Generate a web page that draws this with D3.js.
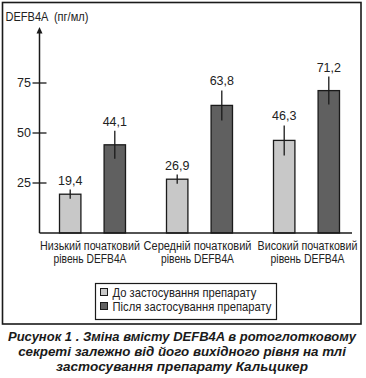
<!DOCTYPE html>
<html>
<head>
<meta charset="utf-8">
<script src="https://cdn.jsdelivr.net/npm/d3@7"></script>
<style>
  html, body { margin: 0; padding: 0; background: #fff; }
  svg { display: block; }
</style>
</head>
<body>
<svg id="chart" width="366" height="378"></svg>
<script>
// ---- data ----
const categories = ["Низький початковий|рівень DEFB4A", "Середній початковий|рівень DEFB4A", "Високий початковий|рівень DEFB4A"];
const series = ["До застосування препарату", "Після застосування препарату"];
const beforeValues = [19.4, 26.9, 46.3];
const afterValues = [44.1, 63.8, 71.2];
const beforeErrors = [2.3, 2.3, 7.5];
const afterErrors = [7.0, 7.5, 7.0];
const valueLabels = [["19,4", "44,1"], ["26,9", "63,8"], ["46,3", "71,2"]];
const yTicks = [25, 50, 75];
const yAxisTitle = "DEFB4A  (пг/мл)";
const captionLines = [
  "Рисунок 1 . Зміна вмісту DEFB4A в ротоглотковому",
  "секреті залежно від його вихідного рівня на тлі",
  "застосування препарату Кальцикер"
];
const seriesColors = ["#c8c8c8", "#606060"];

// ---- helpers ----
const FONT = "Liberation Sans, Arial, sans-serif";
// place a text at (x, y) and squeeze it horizontally to width w (narrow-face look)
function squeezed(parent, str, x, y, w, anchor, attrs) {
  const t = parent.append("text").attr("x", 0).attr("y", 0).attr("text-anchor", anchor);
  Object.entries(attrs).forEach(([k, v]) => t.attr(k, v));
  t.text(str);
  const L = t.node().getComputedTextLength();
  const sx = L > 0 ? w / L : 1;
  t.attr("transform", `translate(${x},${y}) scale(${sx},1)`);
  return t;
}

// ---- layout ----
const svg = d3.select("#chart");
const axisX = 39.5, baseY = 233;

const y = d3.scaleLinear().domain([0, 75]).range([baseY, 83]);
const x0 = d3.scaleBand().domain(categories).range([39, 360]).padding(0);
const bw0 = x0.bandwidth();
const x1 = d3.scaleBand().domain(series).range([bw0 / 2 - 33, bw0 / 2 + 33]).paddingInner(0.52).paddingOuter(0);

// outer frame
svg.append("rect").attr("x", 2.5).attr("y", 2.5).attr("width", 358.5).attr("height", 321.5)
  .attr("fill", "none").attr("stroke", "#1a1a1a").attr("stroke-width", 1.6);

const rows = categories.map((c, i) => ({
  cat: c,
  bars: [
    { s: series[0], v: beforeValues[i], e: beforeErrors[i], lab: valueLabels[i][0], k: 0 },
    { s: series[1], v: afterValues[i], e: afterErrors[i], lab: valueLabels[i][1], k: 1 }
  ]
}));

const g = svg.append("g");
const groups = g.selectAll("g.grp").data(rows).join("g")
  .attr("class", "grp")
  .attr("transform", d => `translate(${x0(d.cat)},0)`);

groups.selectAll("rect").data(d => d.bars).join("rect")
  .attr("x", d => x1(d.s))
  .attr("y", d => y(d.v))
  .attr("width", x1.bandwidth())
  .attr("height", d => baseY - y(d.v))
  .attr("fill", d => seriesColors[d.k])
  .attr("stroke", "#1a1a1a")
  .attr("stroke-width", 1.3);

groups.selectAll("line.err").data(d => d.bars).join("line")
  .attr("class", "err")
  .attr("x1", d => x1(d.s) + x1.bandwidth() / 2)
  .attr("x2", d => x1(d.s) + x1.bandwidth() / 2)
  .attr("y1", d => y(d.v + d.e))
  .attr("y2", d => y(d.v - d.e))
  .attr("stroke", "#1a1a1a")
  .attr("stroke-width", 1.3);

groups.selectAll("text.val").data(d => d.bars).join("text")
  .attr("class", "val")
  .attr("x", d => x1(d.s) + x1.bandwidth() / 2)
  .attr("y", d => y(d.v + d.e) - 5)
  .attr("text-anchor", "middle")
  .attr("font-family", FONT)
  .attr("font-size", 12.5)
  .attr("fill", "#222")
  .text(d => d.lab);

// category labels (two lines each)
const catWidths = [[100, 73], [108, 73], [100, 74]];
const catShift = [-2.5, -2, 1];
const labAttrs = { "font-family": FONT, "font-size": 12.5, "fill": "#222" };
groups.each(function(d, i) {
  const parts = d.cat.split("|");
  parts.forEach((p, j) => {
    squeezed(d3.select(this), p, bw0 / 2 + catShift[i], 249.5 + j * 13.5, catWidths[i][j], "middle", labAttrs);
  });
});

// baseline
g.append("line").attr("x1", axisX).attr("x2", 352).attr("y1", baseY).attr("y2", baseY)
  .attr("stroke", "#1a1a1a").attr("stroke-width", 1.5);

// y axis with arrow
g.append("line").attr("x1", axisX).attr("x2", axisX).attr("y1", baseY).attr("y2", 32)
  .attr("stroke", "#1a1a1a").attr("stroke-width", 1.5);
g.append("path").attr("d", `M${axisX},27 L${axisX - 3},33.5 L${axisX + 3},33.5 Z`).attr("fill", "#1a1a1a");

const ticks = g.selectAll("g.tick").data(yTicks).join("g").attr("class", "tick")
  .attr("transform", d => `translate(0,${y(d)})`);
ticks.append("line").attr("x1", axisX - 7).attr("x2", axisX + 7).attr("stroke", "#1a1a1a").attr("stroke-width", 1.3);
ticks.append("text").attr("x", axisX - 8.5).attr("dy", "0.35em").attr("text-anchor", "end")
  .attr("font-family", FONT).attr("font-size", 12.5).attr("fill", "#222")
  .text(d => d);

// y axis title
squeezed(g, yAxisTitle, 5.5, 21, 83, "start", Object.assign({ "xml:space": "preserve" }, labAttrs))
  .style("white-space", "pre");

// legend
const legendWidths = [144, 159];
const leg = svg.append("g");
leg.append("rect").attr("x", 95.5).attr("y", 283.5).attr("width", 181).attr("height", 36)
  .attr("fill", "#fff").attr("stroke", "#1a1a1a").attr("stroke-width", 1.2);
series.forEach((s, i) => {
  const cy = 292 + i * 14;
  leg.append("rect").attr("x", 100.5).attr("y", cy - 3.5).attr("width", 7).attr("height", 7)
    .attr("fill", seriesColors[i]).attr("stroke", "#1a1a1a").attr("stroke-width", 1);
  squeezed(leg, s, 112.5, cy + 4.5, legendWidths[i], "start", labAttrs);
});

// caption
const capWidths = [348, 328, 252];
const capAttrs = { "font-family": FONT, "font-weight": "bold", "font-style": "italic", "font-size": 13.6, "fill": "#1a1a1a" };
captionLines.forEach((l, j) => {
  squeezed(svg, l, 182, 341 + j * 14.8, capWidths[j], "middle", capAttrs);
});
</script>
</body>
</html>
